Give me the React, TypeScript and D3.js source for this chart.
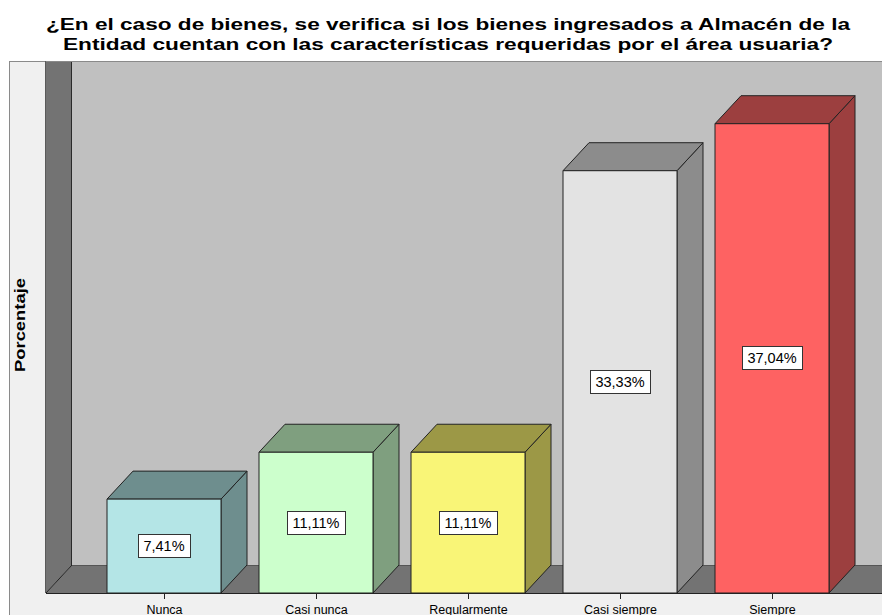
import React from "react";
import * as d3 from "d3";

const categories = ["Nunca", "Casi nunca", "Regularmente", "Casi siempre", "Siempre"];
const values = [7.41, 11.11, 11.11, 33.33, 37.04];
const valueLabels = ["7,41%", "11,11%", "11,11%", "33,33%", "37,04%"];
const frontColors = ["#b4e5e6", "#ccffcc", "#f9f577", "#e3e3e3", "#fe6262"];
const darkColors = ["#6e8e8e", "#7f9f7f", "#9c9846", "#8c8c8c", "#9c3f3f"];
const titleLines = [
  "¿En el caso de bienes, se verifica si los bienes ingresados a Almacén de la",
  "Entidad cuentan con las características requeridas por el área usuaria?",
];
const yTitle = "Porcentaje";

const W = 882;
const H = 615;
const FONT = "'Liberation Sans', Arial, sans-serif";

function measure(text: string, font: string): number {
  if (typeof document === "undefined") return text.length * 7;
  const c = document.createElement("canvas");
  const ctx = c.getContext("2d");
  if (!ctx) return text.length * 7;
  ctx.font = font;
  return ctx.measureText(text).width;
}

export default function App() {
  const floorY = 593;
  const dx = 26;
  const dy = 28;
  const top = 61;
  const wallLeft = 46;

  const x = d3
    .scaleBand<string>()
    .domain(categories)
    .range([88, 848])
    .paddingInner(0.25)
    .paddingOuter(0.125);
  const y = d3.scaleLinear().domain([0, 40]).range([floorY, floorY - 40 * 12.67]);
  const bw = x.bandwidth();

  return (
    <div style={{ position: "absolute", left: 0, top: 0 }}>
      <svg width={W} height={H} style={{ display: "block" }}>
        <rect x={0} y={0} width={W} height={H} fill="#ffffff" />
        {/* title */}
        {titleLines.map((t, i) => (
          <text
            key={i}
            x={448}
            y={30 + i * 20}
            textAnchor="middle"
            fontFamily={FONT}
            fontWeight="bold"
            fontSize={16}
            fill="#000"
            textLength={i === 0 ? 804 : 770}
            lengthAdjust="spacingAndGlyphs"
          >
            {t}
          </text>
        ))}
        {/* chart frame */}
        <rect x={9.5} y={top + 0.5} width={W} height={H} fill="#f0f0f0" stroke="#8a8a8a" />
        {/* left axis panel border */}
        <line x1={45.5} y1={top} x2={45.5} y2={floorY} stroke="#5a5a5a" />
        {/* back wall */}
        <rect x={wallLeft + dx} y={top + 1} width={W - wallLeft - dx} height={floorY - dy - top - 1} fill="#c0c0c0" />
        {/* side wall */}
        <polygon
          points={`${wallLeft},${top + 1} ${wallLeft + dx},${top + 1} ${wallLeft + dx},${floorY - dy} ${wallLeft},${floorY}`}
          fill="#737373"
        />
        <line x1={wallLeft + dx - 0.5} y1={top + 1} x2={wallLeft + dx - 0.5} y2={floorY - dy} stroke="#2a2a2a" />
        {/* floor */}
        <polygon
          points={`${wallLeft},${floorY} ${wallLeft + dx},${floorY - dy} ${W},${floorY - dy} ${W},${floorY}`}
          fill="#737373"
        />
        <line x1={wallLeft} y1={floorY} x2={wallLeft + dx} y2={floorY - dy} stroke="#222" />
        <line x1={wallLeft + dx} y1={floorY - dy + 0.5} x2={W} y2={floorY - dy + 0.5} stroke="#555" />
        {/* bars */}
        {categories.map((c, i) => {
          const x0 = x(c) as number;
          const yv = y(values[i]);
          const x1 = x0 + bw;
          return (
            <g key={c} stroke="#222" strokeWidth={1} strokeLinejoin="round">
              <polygon
                points={`${x1},${yv} ${x1 + dx},${yv - dy} ${x1 + dx},${floorY - dy} ${x1},${floorY}`}
                fill={darkColors[i]}
              />
              <polygon
                points={`${x0},${yv} ${x0 + dx},${yv - dy} ${x1 + dx},${yv - dy} ${x1},${yv}`}
                fill={darkColors[i]}
              />
              <rect x={x0} y={yv} width={bw} height={floorY - yv} fill={frontColors[i]} />
            </g>
          );
        })}
        {/* floor front edge */}
        <line x1={wallLeft} y1={floorY + 0.5} x2={W} y2={floorY + 0.5} stroke="#222" />
        {/* value labels */}
        {categories.map((c, i) => {
          const cx = (x(c) as number) + bw / 2;
          const cy = (y(values[i]) + floorY) / 2;
          const tw = measure(valueLabels[i], `14.5px ${FONT}`);
          const bwid = Math.round(tw + 11);
          return (
            <g key={"l" + c}>
              <rect
                x={Math.round(cx - bwid / 2) + 0.5}
                y={Math.round(cy - 12) + 0.5}
                width={bwid}
                height={23}
                fill="#fff"
                stroke="#333"
              />
              <text
                x={cx}
                y={cy + 5}
                textAnchor="middle"
                fontFamily={FONT}
                fontSize={14.5}
                fill="#000"
              >
                {valueLabels[i]}
              </text>
            </g>
          );
        })}
        {/* ticks and category labels */}
        {categories.map((c) => {
          const cx = Math.round((x(c) as number) + bw / 2) + 0.5;
          return (
            <g key={"t" + c}>
              <line x1={cx} y1={floorY + 1} x2={cx} y2={floorY + 6} stroke="#222" />
              <text x={cx} y={614} textAnchor="middle" fontFamily={FONT} fontSize={12.5} fill="#000">
                {c}
              </text>
            </g>
          );
        })}
        {/* y axis title */}
        <text
          transform={`translate(25,325) rotate(-90)`}
          textAnchor="middle"
          fontFamily={FONT}
          fontWeight="bold"
          fontSize={15.5}
          fill="#000"
          textLength={94}
          lengthAdjust="spacingAndGlyphs"
        >
          {yTitle}
        </text>
      </svg>
    </div>
  );
}
